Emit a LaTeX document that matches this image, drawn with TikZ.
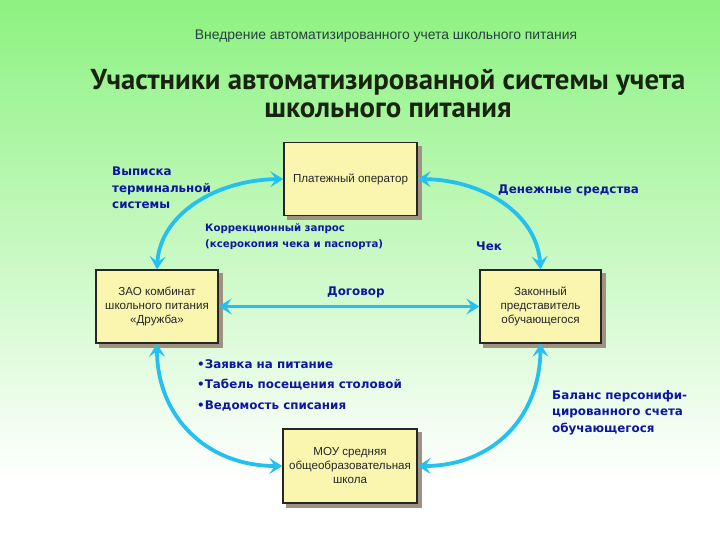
\documentclass[tikz,border=0pt]{standalone}
\usepackage{fontspec}
\setmainfont{DejaVu Sans}
\newfontfamily\boxfont{Liberation Sans}
\newfontfamily\titlefont{PT Sans}
\usetikzlibrary{arrows.meta,shadows}
\definecolor{bgtop}{RGB}{140,242,128}
\definecolor{boxfill}{RGB}{250,246,176}
\definecolor{shadowc}{RGB}{160,146,130}
\definecolor{arrowc}{RGB}{36,192,240}
\definecolor{lblue}{RGB}{12,22,160}
\definecolor{headc}{RGB}{40,64,64}
\definecolor{titlec}{RGB}{24,36,16}
\tikzset{
  block/.style={draw=black!85, line width=1.4pt, fill=boxfill, align=center,
    font=\boxfont\fontsize{11.6}{14}\selectfont, text=black!85,
    general shadow={fill=shadowc, draw=shadowc, shadow xshift=4pt, shadow yshift=-4pt}},
  link/.style={draw=arrowc, line width=3.8pt,
    {Stealth[length=13pt,width=16pt,inset=5.5pt]}-{Stealth[length=13pt,width=16pt,inset=5.5pt]}},
  lbl/.style={text=lblue, font=\bfseries\fontsize{11.9}{16.5}\selectfont, align=left, inner sep=0pt},
  slbl/.style={text=lblue, font=\bfseries\fontsize{10.2}{17}\selectfont, align=left, inner sep=0pt}
}
\begin{document}
\begin{tikzpicture}[x=1pt,y=-1pt]
\useasboundingbox (0,0) rectangle (720,540);
\shade[top color=bgtop, bottom color=white] (0,0) rectangle (720,480);
\fill[white] (0,479.5) rectangle (720,540);

\node[text=headc, font=\boxfont\fontsize{13.9}{15}\selectfont] (head) at (386,36) {Внедрение автоматизированного учета школьного питания};
\node[text=titlec, font=\titlefont\bfseries\fontsize{28.8}{28}\selectfont, align=center] (title) at (388,94)
  {Участники автоматизированной системы учета\\[0pt] школьного питания};

\node[block, minimum width=133pt, minimum height=73pt] (plat) at (350.5,179) {Платежный оператор};
\node[block, minimum width=122pt, minimum height=73pt] (zao) at (157,306.5) {ЗАО комбинат\\школьного питания\\«Дружба»};
\node[block, minimum width=121pt, minimum height=73pt] (zak) at (540.5,306.5) {Законный\\представитель\\обучающегося};
\node[block, minimum width=134pt, minimum height=74pt] (mou) at (350,466) {МОУ средняя\\общеобразовательная\\школа};

\draw[link] (zao.north) .. controls (160,215) and (215,180) .. (plat.west);
\draw[link] (plat.east) .. controls (485,180) and (537,215) .. (zak.north);
\draw[link] (zao.south) .. controls (157,415) and (205,466) .. (mou.west);
\draw[link] (zak.south) .. controls (540,415) and (495,466) .. (mou.east);
\draw[link] (zao.east) -- (zak.west);

\node[lbl, anchor=north west] (vyp) at (112,167) {Выписка\\терминальной\\системы};
\node[slbl, anchor=north west] (korr) at (205,223) {Коррекционный запрос\\(ксерокопия чека и паспорта)};
\node[lbl, anchor=west] (den) at (498,190) {Денежные средства};
\node[lbl, anchor=west] (chek) at (476,246) {Чек};
\node[lbl, anchor=west] (dog) at (327,292) {Договор};
\node[lbl, anchor=north west, font=\bfseries\fontsize{11.9}{20.5}\selectfont] (bul) at (197,359)
  {•Заявка на питание\\•Табель посещения столовой\\•Ведомость списания};
\node[lbl, anchor=north west] (bal) at (552,390) {Баланс персонифи-\\цированного счета\\обучающегося};
\end{tikzpicture}
\end{document}
